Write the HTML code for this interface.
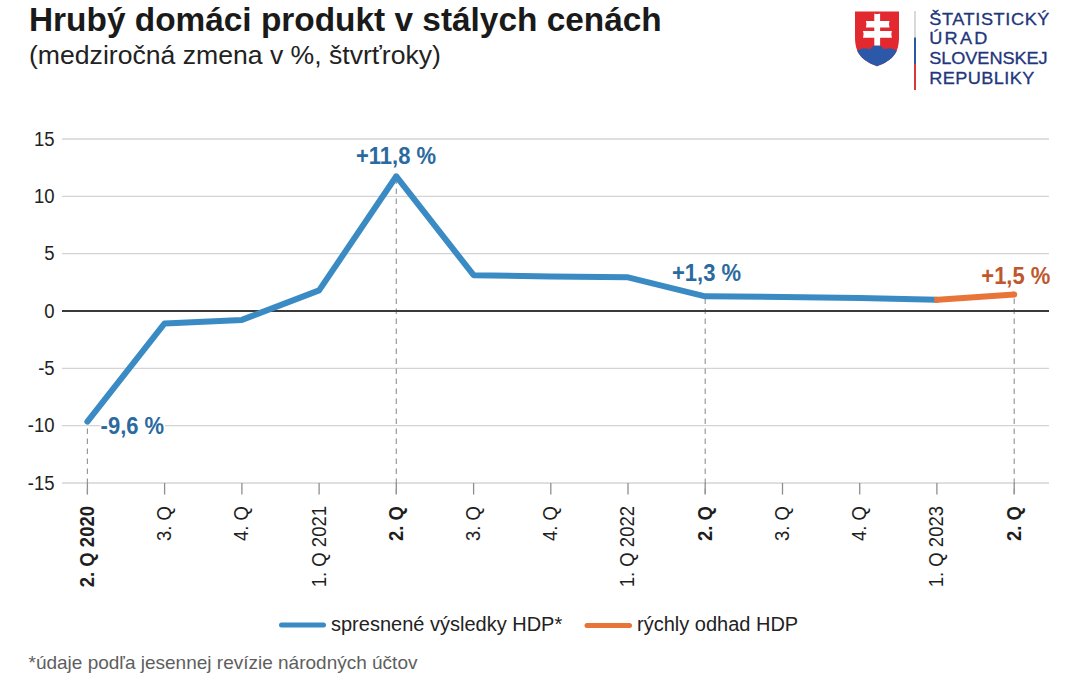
<!DOCTYPE html>
<html><head><meta charset="utf-8"><style>
html,body{margin:0;padding:0;background:#fff;}
body{width:1080px;height:675px;overflow:hidden;position:relative;font-family:"Liberation Sans",sans-serif;}
svg{position:absolute;left:0;top:0;}
</style></head><body>
<svg width="1080" height="675" viewBox="0 0 1080 675" font-family="Liberation Sans, sans-serif">
<text x="29" y="31" font-size="33.4" font-weight="bold" fill="#1a1a1a">Hrubý domáci produkt v stálych cenách</text>
<text x="29" y="63.5" font-size="26.6" fill="#222">(medziročná zmena v %, štvrťroky)</text>
<!-- logo -->
<g>
<defs><clipPath id="shc"><path d="M855,11.5 H899 V37 C899,53 893,60 877,66.3 C861,60 855,53 855,37 Z"/></clipPath></defs>
<path d="M855,11.5 H899 V37 C899,53 893,60 877,66.3 C861,60 855,53 855,37 Z" fill="#e1292f"/>
<path clip-path="url(#shc)" d="M850,51.5 L855.8,51.3 C858.5,49.8 861.5,48.3 864.5,48.3 C866.5,48.3 868.2,49.2 869.8,49.4 C871.5,46.8 874,45.2 877,45.2 C880,45.2 882.5,46.8 884.2,49.4 C885.8,49.2 887.5,48.3 889.5,48.3 C892.5,48.3 895.5,49.8 898.2,51.3 L905,51.5 V70 H850 Z" fill="#2b58a8"/>
<path d="M874.3,13.6 Q877.2,14.6 880.1,13.6 V45.5 H874.3 Z" fill="#fff"/>
<path d="M865.9,20.9 Q867.2,24.25 865.9,27.6 H889.5 Q888.2,24.25 889.5,20.9 Z" fill="#fff"/>
<path d="M863,31 Q864.4,34.4 863,37.8 H891.9 Q890.5,34.4 891.9,31 Z" fill="#fff"/>
<rect x="914" y="11" width="2" height="26.5" fill="#d9d9d9"/>
<rect x="914" y="37.5" width="2" height="26.5" fill="#2b57a7"/>
<rect x="914" y="64" width="2" height="26" fill="#d8383a"/>
<g fill="#22367c" stroke="#22367c" stroke-width="0.3" font-size="16.5">
<text transform="translate(929.2,24.5) scale(1.1,1)" letter-spacing="0.55">ŠTATISTICKÝ</text>
<text transform="translate(929.2,44.3) scale(1.1,1)" letter-spacing="2.05">ÚRAD</text>
<text transform="translate(929.2,64.3) scale(1.1,1)" letter-spacing="-0.05">SLOVENSKEJ</text>
<text transform="translate(929.2,84) scale(1.1,1)" letter-spacing="0.37">REPUBLIKY</text>
</g>
</g>
<!-- grid -->
<line x1="62" y1="139.0" x2="1049" y2="139.0" stroke="#d4d4d4" stroke-width="1.3"/>
<line x1="62" y1="196.3" x2="1049" y2="196.3" stroke="#d4d4d4" stroke-width="1.3"/>
<line x1="62" y1="253.7" x2="1049" y2="253.7" stroke="#d4d4d4" stroke-width="1.3"/>
<line x1="62" y1="368.3" x2="1049" y2="368.3" stroke="#d4d4d4" stroke-width="1.3"/>
<line x1="62" y1="425.7" x2="1049" y2="425.7" stroke="#d4d4d4" stroke-width="1.3"/>
<line x1="62" y1="483.0" x2="1049" y2="483.0" stroke="#d4d4d4" stroke-width="1.3"/>

<g font-size="18.5" fill="#222">
<text transform="translate(54.6,145.5) scale(1,1.09)" text-anchor="end">15</text>
<text transform="translate(54.6,202.8) scale(1,1.09)" text-anchor="end">10</text>
<text transform="translate(54.6,260.2) scale(1,1.09)" text-anchor="end">5</text>
<text transform="translate(54.6,317.5) scale(1,1.09)" text-anchor="end">0</text>
<text transform="translate(54.6,374.8) scale(1,1.09)" text-anchor="end">-5</text>
<text transform="translate(54.6,432.2) scale(1,1.09)" text-anchor="end">-10</text>
<text transform="translate(54.6,489.5) scale(1,1.09)" text-anchor="end">-15</text>

</g>
<line x1="87.4" y1="483" x2="87.4" y2="494.6" stroke="#8e8e8e" stroke-width="1.3"/>
<line x1="164.6" y1="483" x2="164.6" y2="494.6" stroke="#8e8e8e" stroke-width="1.3"/>
<line x1="241.9" y1="483" x2="241.9" y2="494.6" stroke="#8e8e8e" stroke-width="1.3"/>
<line x1="319.1" y1="483" x2="319.1" y2="494.6" stroke="#8e8e8e" stroke-width="1.3"/>
<line x1="396.3" y1="483" x2="396.3" y2="494.6" stroke="#8e8e8e" stroke-width="1.3"/>
<line x1="473.6" y1="483" x2="473.6" y2="494.6" stroke="#8e8e8e" stroke-width="1.3"/>
<line x1="550.8" y1="483" x2="550.8" y2="494.6" stroke="#8e8e8e" stroke-width="1.3"/>
<line x1="628.0" y1="483" x2="628.0" y2="494.6" stroke="#8e8e8e" stroke-width="1.3"/>
<line x1="705.2" y1="483" x2="705.2" y2="494.6" stroke="#8e8e8e" stroke-width="1.3"/>
<line x1="782.5" y1="483" x2="782.5" y2="494.6" stroke="#8e8e8e" stroke-width="1.3"/>
<line x1="859.7" y1="483" x2="859.7" y2="494.6" stroke="#8e8e8e" stroke-width="1.3"/>
<line x1="936.9" y1="483" x2="936.9" y2="494.6" stroke="#8e8e8e" stroke-width="1.3"/>
<line x1="1014.2" y1="483" x2="1014.2" y2="494.6" stroke="#8e8e8e" stroke-width="1.3"/>

<line x1="87.4" y1="494" x2="87.4" y2="421.7" stroke="#959595" stroke-width="1.15" stroke-dasharray="5.5 4.5"/>
<line x1="396.3" y1="494" x2="396.3" y2="176.3" stroke="#959595" stroke-width="1.15" stroke-dasharray="5.5 4.5"/>
<line x1="705.2" y1="494" x2="705.2" y2="296.3" stroke="#959595" stroke-width="1.15" stroke-dasharray="5.5 4.5"/>
<line x1="1014.2" y1="494" x2="1014.2" y2="294.6" stroke="#959595" stroke-width="1.15" stroke-dasharray="5.5 4.5"/>

<line x1="62" y1="311" x2="1049" y2="311" stroke="#3a3a3a" stroke-width="1.9"/>
<rect x="100.5" y="414" width="64.5" height="24" fill="#fff"/>
<polyline points="87.4,421.7 164.6,323.4 241.9,319.9 319.1,290.4 396.3,176.3 473.6,275.2 550.8,276.4 628.0,277.3 705.2,296.3 782.5,297.0 859.7,298.0 936.9,299.8" fill="none" stroke="#3a8bc4" stroke-width="6.0" stroke-linejoin="round" stroke-linecap="round"/>
<polyline points="934.3,299.9 1014.2,294.6" fill="none" stroke="#e8743a" stroke-width="6.0" stroke-linecap="butt"/>
<circle cx="1014.2" cy="294.6" r="3.0" fill="#e8743a"/>
<g font-size="22" font-weight="bold">
<text transform="translate(100.6,433.7) scale(1,1.06)" fill="#2b6a9e">-9,6 %</text>
<text transform="translate(356,164.2) scale(1,1.06)" fill="#2b6a9e">+11,8 %</text>
<text transform="translate(672,281.3) scale(1,1.06)" fill="#2b6a9e">+1,3 %</text>
<text transform="translate(981.3,283.5) scale(1,1.06)" fill="#bf572c">+1,5 %</text>
</g>
<g font-size="18.5" fill="#1e1e1e">
<text transform="translate(93.8,506) rotate(-90) scale(1,1.09)" text-anchor="end" font-weight="bold">2. Q 2020</text>
<text transform="translate(171.0,506) rotate(-90) scale(1,1.09)" text-anchor="end">3. Q</text>
<text transform="translate(248.3,506) rotate(-90) scale(1,1.09)" text-anchor="end">4. Q</text>
<text transform="translate(325.5,506) rotate(-90) scale(1,1.09)" text-anchor="end">1. Q 2021</text>
<text transform="translate(402.7,506) rotate(-90) scale(1,1.09)" text-anchor="end" font-weight="bold">2. Q</text>
<text transform="translate(480.0,506) rotate(-90) scale(1,1.09)" text-anchor="end">3. Q</text>
<text transform="translate(557.2,506) rotate(-90) scale(1,1.09)" text-anchor="end">4. Q</text>
<text transform="translate(634.4,506) rotate(-90) scale(1,1.09)" text-anchor="end">1. Q 2022</text>
<text transform="translate(711.6,506) rotate(-90) scale(1,1.09)" text-anchor="end" font-weight="bold">2. Q</text>
<text transform="translate(788.9,506) rotate(-90) scale(1,1.09)" text-anchor="end">3. Q</text>
<text transform="translate(866.1,506) rotate(-90) scale(1,1.09)" text-anchor="end">4. Q</text>
<text transform="translate(943.3,506) rotate(-90) scale(1,1.09)" text-anchor="end">1. Q 2023</text>
<text transform="translate(1020.6,506) rotate(-90) scale(1,1.09)" text-anchor="end" font-weight="bold">2. Q</text>

</g>
<!-- legend -->
<line x1="281.5" y1="625" x2="323.5" y2="625" stroke="#3a8bc4" stroke-width="5" stroke-linecap="round"/>
<text x="331" y="630.7" font-size="20" fill="#222">spresnené výsledky HDP*</text>
<line x1="587" y1="625.4" x2="629.5" y2="625.4" stroke="#e8743a" stroke-width="5" stroke-linecap="round"/>
<text x="637" y="630.7" font-size="20" fill="#222">rýchly odhad HDP</text>
<text x="28.5" y="668.9" font-size="19" fill="#5e5e5e">*údaje podľa jesennej revízie národných účtov</text>
</svg>
</body></html>
